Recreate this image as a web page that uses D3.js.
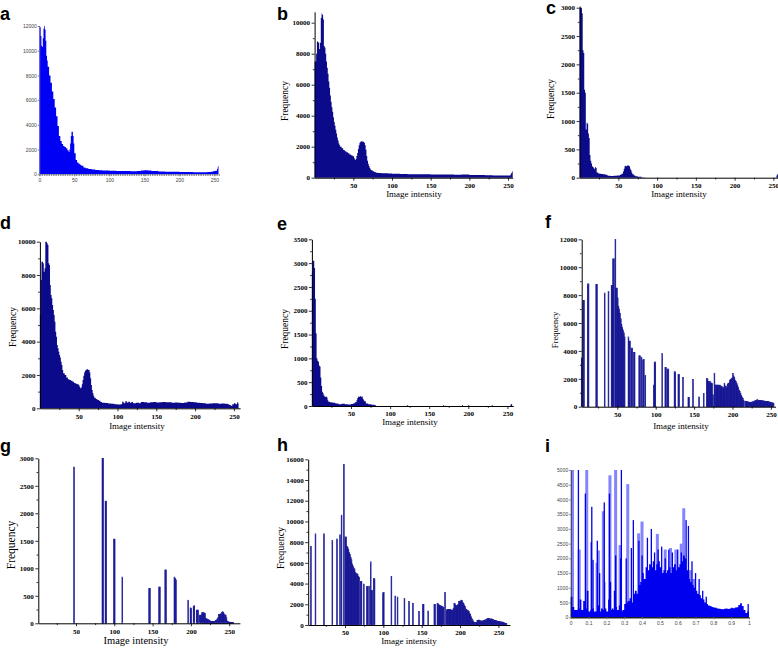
<!DOCTYPE html>
<html>
<head>
<meta charset="utf-8">
<script src="https://cdn.jsdelivr.net/npm/d3@7"></script>
<style>
  body { margin: 0; background: #fff; }
  svg { display: block; }
</style>
</head>
<body>
<script>
// ---- data: [intensity, frequency] ----
const aHist = [[0,12000],[1,11900],[2,11200],[3,10400],[4,10300],[5,11000],[6,11800],[7,12000],[8,11700],[9,10800],[10,9600],[11,9200],[12,8700],[14,8000],[16,7400],[18,6700],[20,6100],[22,5400],[24,4700],[26,3900],[28,3100],[30,2700],[32,2450],[34,2300],[36,2200],[38,2100],[40,1950],[42,1800],[43,2000],[44,2500],[45,3100],[46,3450],[47,3450],[48,3100],[49,2500],[50,1700],[52,1150],[54,950],[56,850],[58,780],[60,700],[63,560],[66,480],[70,420],[75,380],[80,350],[85,320],[90,300],[100,290],[110,270],[120,260],[130,250],[140,260],[145,300],[150,330],[155,300],[160,260],[170,230],[180,210],[190,200],[200,190],[210,180],[220,175],[230,170],[240,180],[245,200],[248,240],[250,260],[252,280],[254,450],[255,650]];

const bHist = [[0,7500],[1,7500],[2,8000],[3,8800],[4,8750],[5,8700],[6,8300],[7,8700],[8,10300],[9,10600],[10,10500],[11,10200],[12,8500],[13,8400],[14,8000],[15,7500],[16,7100],[17,6700],[18,6200],[19,5800],[20,5300],[21,4900],[22,4550],[23,4250],[24,3900],[25,3600],[26,3350],[27,3100],[28,2850],[29,2600],[30,2400],[31,2200],[32,2100],[33,2000],[35,1900],[37,1780],[39,1700],[41,1650],[43,1580],[45,1500],[47,1450],[49,1380],[51,1250],[52,1150],[53,1200],[54,1400],[55,1600],[56,1850],[57,2100],[58,2250],[59,2320],[60,2350],[61,2330],[62,2330],[63,2300],[64,2250],[65,2100],[66,1800],[67,1400],[68,1100],[69,900],[70,750],[71,620],[72,530],[73,480],[75,420],[77,360],[79,320],[82,300],[86,290],[90,280],[95,270],[100,250],[110,240],[120,230],[130,220],[140,220],[150,210],[160,200],[170,200],[180,190],[190,210],[200,180],[210,170],[220,160],[230,150],[240,150],[250,140],[253,200],[254,300],[255,400]];

const cHist = [[0,3000],[1,3000],[2,3000],[3,2900],[4,2250],[5,2200],[6,1550],[7,1500],[8,850],[9,970],[10,950],[11,780],[12,700],[13,400],[14,300],[15,250],[16,200],[17,190],[18,170],[19,150],[20,190],[21,170],[22,90],[24,75],[26,70],[28,65],[30,60],[33,50],[36,35],[40,30],[44,35],[48,40],[52,50],[54,70],[56,110],[57,160],[58,200],[59,210],[60,200],[61,210],[62,220],[63,210],[64,200],[65,160],[66,130],[67,90],[68,60],[70,40],[72,25],[75,15],[80,5],[85,0],[254,40],[255,60]];

const dHist = [[0,5600],[1,7700],[2,8800],[3,8800],[4,8700],[5,8200],[6,8400],[7,10000],[8,10000],[9,9900],[10,9800],[11,8700],[12,8600],[13,7400],[14,6800],[15,6600],[16,6200],[17,5900],[18,5600],[19,5200],[20,4600],[21,4300],[22,3800],[23,3600],[24,3400],[25,3200],[26,3050],[27,2800],[28,2600],[29,2300],[30,2100],[32,2000],[34,1850],[36,1750],[38,1700],[40,1650],[42,1600],[44,1520],[46,1480],[48,1450],[50,1380],[51,1300],[52,1200],[53,1250],[54,1450],[55,1700],[56,1950],[57,2150],[58,2250],[59,2300],[60,2350],[61,2350],[62,2300],[63,2320],[64,2150],[65,1800],[66,1400],[67,1100],[68,900],[69,750],[70,640],[72,560],[74,500],[76,450],[78,380],[80,340],[84,320],[88,290],[92,270],[96,250],[100,230],[104,250],[106,400],[108,300],[110,420],[112,350],[114,400],[116,330],[118,380],[120,300],[124,330],[128,300],[130,380],[134,360],[138,340],[142,370],[146,380],[150,350],[154,370],[158,380],[162,360],[166,370],[170,340],[174,350],[178,330],[182,320],[186,350],[190,400],[194,380],[198,370],[202,340],[206,320],[210,300],[214,280],[218,290],[222,310],[226,300],[230,280],[234,290],[238,270],[242,250],[244,200],[246,150],[248,250],[250,300],[252,240],[254,360],[255,300]];

const eHist = [[0,2800],[1,3050],[2,3050],[3,2900],[4,2250],[5,1530],[6,1000],[7,950],[8,930],[9,850],[10,830],[11,600],[12,420],[13,300],[14,270],[15,220],[16,200],[17,190],[18,200],[19,180],[20,120],[21,90],[23,80],[25,75],[27,70],[30,50],[34,35],[38,45],[42,35],[46,30],[50,40],[53,60],[55,80],[57,120],[58,170],[59,200],[60,190],[61,200],[62,210],[63,190],[64,200],[65,150],[66,120],[67,100],[69,50],[72,35],[76,25],[80,15],[82,0],[122,20],[123,0],[168,20],[169,0],[192,20],[193,0],[200,20],[201,0],[230,20],[231,0],[254,30],[255,40]];

const fBars = [[3,3500],[5,7600],[6,7600],[11,8800],[12,8800],[22,8750],[23,8750],[33,8150],[38,8250],[42,8700],[43,8700],[44,10600],[45,10600],[47,12000],[48,8500],[49,8500],[50,7800],[51,7200],[52,7000],[53,6700],[54,6300],[55,5900],[56,5700],[57,5500],[58,5300],[59,5000],[64,5000],[65,4700],[66,4700],[68,4200],[69,4200],[71,3900],[72,3900],[78,3650],[79,3650],[81,3550],[83,3350],[84,3400],[86,2250],[97,1550],[98,3200],[99,3200],[108,3800],[112,2800],[113,2800],[115,2700],[116,2700],[124,2500],[125,2500],[129,2300],[130,2300],[135,2100],[142,650],[143,650],[148,1950],[156,700],[162,950],[166,2030],[167,2000],[168,1800],[169,1800],[170,1780],[171,1780],[172,1680],[173,1650],[174,850],[176,2400],[177,1550],[178,1550],[179,1550],[180,1550],[181,1550],[182,1530],[183,1550],[184,1500],[185,1450],[186,1430],[187,1400],[188,1320],[189,1680],[190,1500],[191,1420],[192,1430],[193,1600],[194,1700],[195,1650],[196,1900],[197,1950],[198,2000],[199,2050],[200,2390],[201,2200],[202,2100],[203,1900],[204,1800],[205,1650],[206,1550],[207,1400],[208,1200],[209,1100],[210,950],[211,800],[212,700],[213,600],[214,450],[216,380],[217,370],[218,360],[219,350],[220,340],[221,330],[222,310],[223,320],[224,300],[225,330],[226,350],[227,380],[228,400],[229,420],[230,450],[231,480],[232,500],[233,470],[234,450],[235,430],[236,460],[237,450],[238,420],[239,430],[240,400],[241,410],[242,380],[243,390],[244,370],[245,380],[246,360],[247,350],[248,330],[249,320],[250,300],[251,280],[252,270],[253,250]];

const gBars = [[47,2840],[84,3000],[85,3000],[88,2220],[89,2220],[99,1530],[100,1530],[110,840],[145,630],[146,630],[158,660],[159,660],[166,970],[167,970],[178,840],[179,820],[180,790],[196,420],[199,280],[200,270],[203,310],[204,320],[207,240],[208,240],[209,240],[211,150],[212,140],[213,150],[214,190],[215,200],[216,190],[217,190],[218,180],[219,90],[220,80],[221,75],[222,70],[223,60],[224,50],[225,40],[226,30],[227,30],[228,30],[229,30],[230,35],[231,40],[232,50],[233,60],[234,80],[235,100],[236,160],[237,160],[238,170],[239,170],[240,200],[241,210],[242,200],[243,170],[244,150],[245,150],[246,100],[247,40],[248,30],[249,20],[250,20],[251,20],[252,15],[253,15],[254,15],[255,10]];

const hBars = [[5,7600],[11,8800],[22,8800],[33,8150],[39,8300],[43,8700],[45,10600],[48,15500],[50,8500],[51,8500],[52,7600],[53,7500],[54,7300],[55,7000],[56,6800],[57,6500],[58,6300],[59,5900],[60,5700],[61,5500],[62,5400],[63,5100],[64,5000],[65,4950],[66,4900],[67,4700],[68,4600],[70,4200],[71,4200],[74,3950],[78,3700],[79,3700],[81,3750],[83,6100],[84,3350],[85,3350],[87,4500],[88,4450],[99,3100],[100,3150],[110,4700],[115,2800],[118,2700],[127,2550],[133,2250],[138,2100],[146,1300],[151,2000],[152,2000],[158,1350],[166,2000],[167,2000],[170,2100],[171,2050],[172,1950],[173,1900],[174,1850],[175,1850],[176,1800],[177,1750],[178,1700],[180,3150],[182,1450],[183,1500],[184,1500],[185,1500],[186,1500],[187,1520],[188,1450],[189,1400],[190,1450],[191,1600],[192,2100],[193,2050],[194,1900],[195,1850],[196,1900],[197,2000],[198,2250],[199,2300],[200,2250],[201,2400],[202,2350],[203,2200],[204,2100],[205,1950],[206,1800],[207,1550],[208,1500],[209,1350],[210,1400],[211,1300],[212,1100],[213,1000],[214,800],[215,600],[216,500],[217,350],[218,250],[219,200],[220,230],[221,250],[222,450],[223,430],[224,480],[225,420],[226,400],[227,390],[228,390],[229,380],[230,420],[231,450],[232,480],[233,500],[234,560],[235,600],[236,620],[237,650],[238,600],[239,560],[240,600],[241,580],[242,540],[243,500],[244,470],[245,440],[246,420],[247,400],[248,380],[249,360],[250,330],[251,320],[252,310],[253,300],[254,290],[255,280],[256,260],[257,220],[258,180],[259,160],[260,140]];

// panel i: normalised intensity
const iBase = [[0,700],[0.01,350],[0.02,250],[0.03,250],[0.04,300],[0.05,600],[0.06,250],[0.07,550],[0.08,300],[0.09,900],[0.1,200],[0.11,250],[0.12,300],[0.13,200],[0.14,200],[0.15,400],[0.16,200],[0.17,300],[0.18,250],[0.19,300],[0.2,200],[0.21,600],[0.22,250],[0.23,300],[0.24,250],[0.25,350],[0.26,250],[0.27,400],[0.28,200],[0.29,250],[0.3,450],[0.31,500],[0.32,550],[0.33,650],[0.34,500],[0.35,800],[0.36,900],[0.37,800],[0.38,1100],[0.39,1200],[0.4,1500],[0.41,1300],[0.42,1700],[0.43,1600],[0.44,1800],[0.45,1700],[0.46,1900],[0.47,1600],[0.48,1800],[0.49,1900],[0.5,1700],[0.51,1500],[0.52,1600],[0.53,1500],[0.54,1600],[0.55,1700],[0.56,1500],[0.57,1700],[0.58,1800],[0.59,1600],[0.6,1700],[0.61,1800],[0.62,1900],[0.63,2100],[0.64,2000],[0.65,1600],[0.66,1300],[0.67,1200],[0.68,1100],[0.69,1000],[0.7,900],[0.71,800],[0.72,750],[0.73,650],[0.74,600],[0.75,500],[0.76,450],[0.77,400],[0.78,380],[0.79,350],[0.8,330],[0.81,320],[0.82,300],[0.83,290],[0.84,280],[0.85,270],[0.86,290],[0.87,300],[0.88,280],[0.89,300],[0.9,320],[0.91,310],[0.92,330],[0.93,340],[0.94,420],[0.95,480],[0.96,380],[0.97,250],[0.98,150],[0.99,200]];
const iDarkSpikes = [[0.043,5000],[0.082,4200],[0.115,2550],[0.118,3750],[0.125,1950],[0.149,2600],[0.162,1500],[0.188,3900],[0.19,1200],[0.217,4200],[0.223,1200],[0.245,900],[0.252,2100],[0.28,2000],[0.284,5000],[0.311,2000],[0.34,2350],[0.351,3300],[0.382,2600],[0.4,2100],[0.43,2700],[0.452,3000],[0.47,2200],[0.49,2300],[0.51,2400],[0.53,2000],[0.55,2300],[0.57,2200],[0.6,2300],[0.62,2200],[0.647,3300],[0.66,3100],[0.68,1900],[0.7,1500],[0.72,1300],[0.74,900],[0.76,700],[0.995,450]];
const iLightSpikes = [[0.01,5000],[0.048,2300],[0.09,5000],[0.148,1850],[0.155,2270],[0.183,3600],[0.22,4820],[0.252,5000],[0.277,2450],[0.32,4520],[0.381,2850],[0.4,3250],[0.486,2830],[0.53,2300],[0.56,2350],[0.59,2300],[0.62,2500],[0.634,3700],[0.67,1600],[0.69,1300]];

const intensityTicks = [50, 100, 150, 200, 250];

const svg = d3.select("body").append("svg")
  .attr("width", 778).attr("height", 648);

const NAVY = "#0a0a8a";
const plain = d3.format("d");

function panelLetter(txt, x, y) {
  svg.append("text").attr("x", x).attr("y", y).text(txt)
    .attr("font-family", "Liberation Sans, Arial, sans-serif")
    .attr("font-weight", "bold").attr("font-size", 18).attr("fill", "#000");
}

// dense histogram as one stepped area; the last bin is `step` wide
function denseHist(g, x, y, data, fill, step) {
  const last = data[data.length - 1];
  const pts = data.concat([[last[0] + step, last[1]]]);
  const area = d3.area()
    .x(d => x(d[0]))
    .y0(y(0))
    .y1(d => y(d[1]))
    .curve(d3.curveStepAfter);
  g.append("path").datum(pts).attr("d", area).attr("fill", fill);
}

// sparse histogram: one intensity unit per bar, outlined
function thinBars(g, x, y, data) {
  g.append("g").selectAll("rect").data(data).join("rect")
    .attr("x", d => x(d[0]))
    .attr("width", d => x(d[0] + 1) - x(d[0]))
    .attr("y", d => y(d[1]))
    .attr("height", d => y(0) - y(d[1]))
    .attr("fill", "#3d3db5")
    .attr("stroke", NAVY).attr("stroke-width", 0.6);
}

// Origin-style panel (b..h)
function originPanel(p) {
  const g = svg.append("g");
  const x = d3.scaleLinear().domain(p.xDom).range(p.xRange);
  const y = d3.scaleLinear().domain(p.yDom).range(p.yRange);

  if (p.sparse) thinBars(g, x, y, p.data);
  else denseHist(g, x, y, p.data, NAVY, 1);

  const font = "Liberation Serif, Times New Roman, serif";

  const xa = g.append("g").attr("transform", `translate(0,${y(0)})`)
    .call(d3.axisBottom(x).tickValues(intensityTicks).tickFormat(plain).tickSize(3).tickPadding(2.5).tickSizeOuter(0));
  g.append("g").attr("transform", `translate(0,${y(0)})`)
    .call(d3.axisBottom(x).tickValues(intensityTicks.map(v => v - 25).concat([275]).filter(v => v > p.xDom[0] && v < p.xDom[1]))
      .tickSize(1.8).tickFormat(""))
    .select(".domain").remove();

  const ya = g.append("g").attr("transform", `translate(${x(p.xDom[0])},0)`)
    .call(d3.axisLeft(y).tickValues(p.yTicks).tickFormat(plain).tickSize(3).tickPadding(1.5).tickSizeOuter(0));
  g.append("g").attr("transform", `translate(${x(p.xDom[0])},0)`)
    .call(d3.axisLeft(y).tickValues(p.yTicks.slice(1).map(v => v - p.yStep / 2)).tickSize(1.8).tickFormat(""))
    .select(".domain").remove();

  [xa, ya].forEach(a => a.selectAll("text")
    .attr("font-family", font).attr("font-weight", "bold").attr("font-size", 7).attr("fill", "#000"));
  g.selectAll(".domain").attr("stroke", "#000").attr("stroke-width", 1);
  g.selectAll(".tick line").attr("stroke", "#000").attr("stroke-width", 0.8);

  g.append("text").text("Frequency")
    .attr("transform", `translate(${p.freq[0]},${p.freq[1]}) rotate(-90)`)
    .attr("text-anchor", "middle").attr("dominant-baseline", "central")
    .attr("font-family", font).attr("font-size", p.freq[2]).attr("fill", "#000");
  g.append("text").text("Image intensity")
    .attr("x", p.xlab[0]).attr("y", p.xlab[1])
    .attr("text-anchor", "middle")
    .attr("font-family", font).attr("font-size", p.xlab[2]).attr("fill", "#000");
}

// ---------- panel a (Matlab style) ----------
{
  const g = svg.append("g");
  const x = d3.scaleLinear().domain([0, 255]).range([39.3, 217.8]);
  const y = d3.scaleLinear().domain([0, 12000]).range([174.3, 26]);
  denseHist(g, x, y, aHist, "#0000f5", 1);
  const xa = g.append("g").attr("transform", `translate(0,${y(0)})`)
    .call(d3.axisBottom(x).tickValues([0, 50, 100, 150, 200, 250]).tickSize(2).tickPadding(2).tickSizeOuter(0));
  xa.select(".domain").attr("stroke", "#777").attr("stroke-width", 1.8).attr("stroke-dasharray", "1.5,0.8")
    .attr("d", `M${x(0)},0.5H${x(255) + 2}`);
  const ya = g.append("g").attr("transform", `translate(${x(0)},0)`)
    .call(d3.axisLeft(y).tickValues(d3.range(0, 12001, 2000)).tickFormat(plain).tickSize(1.5).tickPadding(1).tickSizeOuter(0));
  ya.select(".domain").attr("stroke", "#999").attr("stroke-width", 0.5);
  g.selectAll(".tick line").attr("stroke", "#777");
  g.selectAll(".tick text").attr("font-family", "Liberation Sans, Arial, sans-serif")
    .attr("font-size", 5).attr("fill", "#444");
}

originPanel({ data: bHist, xDom: [0, 256], xRange: [314.6, 512.7], yDom: [0, 10700], yRange: [177.7, 11.85],
  yTicks: d3.range(0, 10001, 2000), yStep: 2000, freq: [285, 101, 9.5], xlab: [414, 197, 9] });
originPanel({ data: cHist, xDom: [0, 256], xRange: [579.6, 778], yDom: [0, 3030], yRange: [177.7, 6.0],
  yTicks: d3.range(0, 3001, 500), yStep: 500, freq: [551, 99, 9.5], xlab: [679, 197, 9] });
originPanel({ data: dHist, xDom: [0, 258], xRange: [39.9, 240.1], yDom: [0, 10000], yRange: [408.3, 241.7],
  yTicks: d3.range(0, 10001, 2000), yStep: 2000, freq: [13, 327, 9.5], xlab: [137, 429, 9] });
originPanel({ data: eHist, xDom: [0, 257.5], xRange: [311.9, 513.3], yDom: [0, 3500], yRange: [406, 239.3],
  yTicks: d3.range(0, 3501, 500), yStep: 500, freq: [284.5, 329, 9.5], xlab: [410, 425, 9] });
originPanel({ data: fBars, sparse: true, xDom: [3.6, 256], xRange: [581.7, 775.5], yDom: [0, 12000], yRange: [406.7, 239.3],
  yTicks: d3.range(0, 12001, 2000), yStep: 2000, freq: [554.5, 330, 8.7], xlab: [681, 429, 9] });
originPanel({ data: gBars, sparse: true, xDom: [0.8, 264], xRange: [38.3, 239.9], yDom: [0, 3000], yRange: [623.3, 458.3],
  yTicks: d3.range(0, 3001, 500), yStep: 500, freq: [10.5, 545, 11.5], xlab: [136, 644, 10.5] });
originPanel({ data: hBars, sparse: true, xDom: [2, 265], xRange: [308.2, 509.9], yDom: [0, 16000], yRange: [625, 459.3],
  yTicks: d3.range(0, 16001, 2000), yStep: 2000, freq: [280, 548, 10], xlab: [409, 644, 9] });

// ---------- panel i (Matlab style) ----------
{
  const g = svg.append("g");
  const x = d3.scaleLinear().domain([0, 1]).range([570.7, 749]);
  const y = d3.scaleLinear().domain([0, 5000]).range([617.3, 470]);
  g.append("g").selectAll("rect").data(iLightSpikes).join("rect")
    .attr("x", d => x(d[0]) - 1.5).attr("width", 3)
    .attr("y", d => y(d[1])).attr("height", d => y(0) - y(d[1]))
    .attr("fill", "#8484ff");
  denseHist(g, x, y, iBase, "#0000f0", 0.01);
  g.append("g").selectAll("rect").data(iDarkSpikes).join("rect")
    .attr("x", d => x(d[0]) - 0.6).attr("width", 1.3)
    .attr("y", d => y(d[1])).attr("height", d => y(0) - y(d[1]))
    .attr("fill", "#0000ee");
  const xa = g.append("g").attr("transform", `translate(0,${y(0)})`)
    .call(d3.axisBottom(x).tickValues(d3.range(0, 1.01, 0.1)).tickFormat(d => d3.format("~g")(+d.toFixed(1)))
      .tickSize(2).tickPadding(2).tickSizeOuter(0));
  xa.select(".domain").attr("stroke", "#222").attr("stroke-width", 1.5);
  const ya = g.append("g").attr("transform", `translate(${x(0)},0)`)
    .call(d3.axisLeft(y).tickValues(d3.range(0, 5001, 500)).tickFormat(plain).tickSize(1.5).tickPadding(1).tickSizeOuter(0));
  ya.select(".domain").attr("stroke", "#222").attr("stroke-width", 0.8);
  g.selectAll(".tick line").attr("stroke", "#777");
  g.selectAll(".tick text").attr("font-family", "Liberation Sans, Arial, sans-serif")
    .attr("font-size", 5).attr("fill", "#444");
}

panelLetter("a", 0, 20);
panelLetter("b", 277, 20);
panelLetter("c", 546, 14);
panelLetter("d", 0, 229);
panelLetter("e", 277, 230);
panelLetter("f", 545, 228);
panelLetter("g", 0, 452);
panelLetter("h", 277, 451);
panelLetter("i", 545, 452);
</script>
</body>
</html>
